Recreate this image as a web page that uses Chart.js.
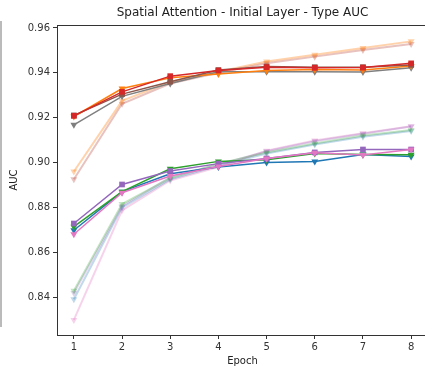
<!DOCTYPE html>
<html lang="en">
<head>
    <meta charset="UTF-8">
    <title>Spatial Attention - Initial Layer - Type AUC</title>
    <script src="https://cdn.jsdelivr.net/npm/chart.js"></script>
    <style>
        html, body {
            margin: 0;
            padding: 0;
            background: #fff;
            overflow: hidden;
        }
        .chart-container {
            position: relative;
            width: 440px;
            height: 369px;
        }
    </style>
</head>
<body>
    <div class="chart-container">
        <canvas id="aucChart"></canvas>
    </div>

    <script>
        const epochs = [1, 2, 3, 4, 5, 6, 7, 8];
        const yTicks = [0.84, 0.86, 0.88, 0.90, 0.92, 0.94, 0.96];

        // upper group
        const redAuc = [0.9208, 0.9315, 0.9385, 0.9410, 0.9425, 0.9422, 0.9423, 0.9442];
        const orangeAuc = [0.9205, 0.9330, 0.9378, 0.9395, 0.9410, 0.9415, 0.9412, 0.9430];
        const brownAuc = [0.9210, 0.9305, 0.9360, 0.9412, 0.9428, 0.9425, 0.9425, 0.9435];
        const grayAuc = [0.9168, 0.9295, 0.9352, 0.9405, 0.9405, 0.9405, 0.9403, 0.9422];
        const lightOrangeAuc = [0.8960, 0.9275, 0.9360, 0.9405, 0.9450, 0.9480, 0.9510, 0.9540];
        const lightBrownAuc = [0.8925, 0.9262, 0.9352, 0.9400, 0.9442, 0.9472, 0.9502, 0.9528];

        // lower group
        const blueAuc = [0.8698, 0.8870, 0.8950, 0.8980, 0.9000, 0.9004, 0.9036, 0.9027];
        const greenAuc = [0.8714, 0.8870, 0.8972, 0.9005, 0.9012, 0.9040, 0.9036, 0.9035];
        const purpleAuc = [0.8728, 0.8902, 0.8962, 0.8995, 0.9018, 0.9045, 0.9058, 0.9058];
        const pinkAuc = [0.8680, 0.8865, 0.8940, 0.8982, 0.9018, 0.9044, 0.9034, 0.9058];
        const lightGreenAuc = [0.8428, 0.8815, 0.8930, 0.8995, 0.9045, 0.9085, 0.9120, 0.9145];
        const lightPurpleAuc = [0.8418, 0.8805, 0.8935, 0.8990, 0.9050, 0.9095, 0.9128, 0.9160];
        const lightBlueAuc = [0.8390, 0.8800, 0.8925, 0.8985, 0.9040, 0.9080, 0.9115, 0.9140];
        const lightPinkAuc = [0.8298, 0.8787, 0.8920, 0.8980, 0.9052, 0.9098, 0.9130, 0.9162];

        function series(values, color, order, style, width) {
            return {
                data: values.map((v, i) => ({ x: epochs[i], y: v })),
                borderColor: color,
                backgroundColor: color,
                borderWidth: width || 1.5,
                pointStyle: style || 'triangle',
                pointRotation: style === 'rect' ? 0 : 180,
                pointRadius: 4,
                pointBorderWidth: 0,
                order: order
            };
        }

        const datasets = [
            series(lightOrangeAuc, 'rgba(255, 127, 14, 0.35)', 9, null, 2),
            series(lightBrownAuc, 'rgba(190, 80, 70, 0.35)', 9, null, 2),
            series(lightGreenAuc, 'rgba(44, 160, 44, 0.28)', 9, null, 2),
            series(lightPurpleAuc, 'rgba(148, 103, 189, 0.28)', 9, null, 2),
            series(lightBlueAuc, 'rgba(31, 119, 180, 0.28)', 9, null, 2),
            series(lightPinkAuc, 'rgba(227, 119, 194, 0.32)', 9, null, 2),
            series(grayAuc, '#7f7f7f', 5),
            series(orangeAuc, '#ff7f0e', 4),
            series(brownAuc, '#8c564b', 3, 'rect'),
            series(redAuc, '#d62728', 2, 'rect'),
            series(blueAuc, '#1f77b4', 5),
            series(greenAuc, '#2ca02c', 4),
            series(purpleAuc, '#9467bd', 3, 'rect'),
            series(pinkAuc, '#e377c2', 2)
        ];

        // title, axis labels, top spine and the thin line on the far left
        const extras = {
            id: 'extras',
            afterDraw(chart) {
                const c = chart.ctx;
                const a = chart.chartArea;
                c.save();
                c.strokeStyle = '#333';
                c.lineWidth = 1;
                c.beginPath();
                c.moveTo(a.left, a.top + 0.5);
                c.lineTo(a.right, a.top + 0.5);
                c.stroke();

                c.strokeStyle = '#777';
                c.beginPath();
                c.moveTo(1, 21);
                c.lineTo(1, 327);
                c.stroke();

                c.fillStyle = '#222';
                c.textAlign = 'center';
                c.textBaseline = 'middle';
                c.font = '12px "DejaVu Sans"';
                c.fillText('Spatial Attention - Initial Layer - Type AUC', (a.left + a.right) / 2, 13);
                c.font = '10px "DejaVu Sans"';
                c.fillText('Epoch', (a.left + a.right) / 2, 361);
                c.translate(14, (a.top + a.bottom) / 2);
                c.rotate(-Math.PI / 2);
                c.fillText('AUC', 0, 0);
                c.restore();
            }
        };

        new Chart(document.getElementById('aucChart'), {
            type: 'line',
            data: { datasets: datasets },
            options: {
                responsive: true,
                maintainAspectRatio: false,
                animation: false,
                layout: { padding: { top: 25, right: 12, left: 0, bottom: 0 } },
                plugins: {
                    legend: { display: false },
                    tooltip: { enabled: false }
                },
                scales: {
                    x: {
                        type: 'linear',
                        min: 0.65,
                        max: 8.35,
                        afterBuildTicks: (s) => { s.ticks = epochs.map(v => ({ value: v })); },
                        afterFit: (s) => { s.height = 34; },
                        grid: { drawOnChartArea: false, drawTicks: true, tickLength: 4, color: '#333' },
                        border: { display: true, color: '#333', width: 1 },
                        ticks: {
                            color: '#333',
                            padding: 2,
                            font: { family: 'DejaVu Sans', size: 10 },
                            maxRotation: 0,
                            callback: (v) => String(v)
                        }
                    },
                    y: {
                        min: 0.8231,
                        max: 0.9613,
                        afterBuildTicks: (s) => { s.ticks = yTicks.map(v => ({ value: v })); },
                        afterFit: (s) => { s.width = 57; },
                        grid: { drawOnChartArea: false, drawTicks: true, tickLength: 4, color: '#333' },
                        border: { display: true, color: '#333', width: 1 },
                        ticks: {
                            color: '#333',
                            padding: 3,
                            font: { family: 'DejaVu Sans', size: 10 },
                            callback: (v) => v.toFixed(2)
                        }
                    }
                }
            },
            plugins: [extras]
        });
    </script>
</body>
</html>
